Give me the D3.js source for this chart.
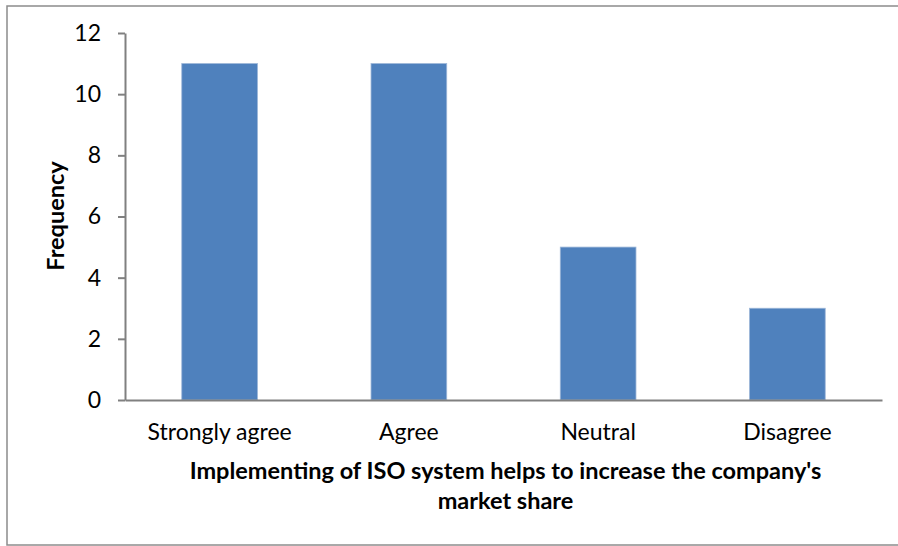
<!DOCTYPE html>
<html>
<head>
<meta charset="utf-8">
<script src="https://cdn.jsdelivr.net/npm/d3@7"></script>
<style>
  html, body { margin: 0; padding: 0; background: #fff; }
  svg { display: block; }
  text { font-family: Lato, "Open Sans", "Liberation Sans", sans-serif; fill: #000; }
</style>
</head>
<body>
<svg id="chart" width="898" height="546"></svg>
<script>
// Survey responses
const categories = ["Strongly agree", "Agree", "Neutral", "Disagree"];
const frequency = [11, 11, 5, 3];
const yTicks = [0, 2, 4, 6, 8, 10, 12];
const xTitleLines = ["Implementing of ISO system helps to increase the company's", "market share"];
const yTitle = "Frequency";

const svg = d3.select("#chart");
const W = 898, H = 546;
const plot = { left: 125, right: 882, top: 33, bottom: 400 };
const tickFont = 23, titleFont = 23.5;

// Outer frame
svg.append("rect")
  .attr("x", 7).attr("y", 6)
  .attr("width", W + 10).attr("height", 539)
  .attr("fill", "#fff").attr("stroke", "#8c8c8c").attr("stroke-width", 1.5);

const x = d3.scaleBand().domain(categories).range([plot.left, plot.right]).padding(0);
const y = d3.scaleLinear().domain([0, 12]).range([plot.bottom, plot.top]);

const barW = x.bandwidth() * 0.4;

svg.append("g").selectAll("rect")
  .data(categories)
  .join("rect")
  .attr("x", d => x(d) + (x.bandwidth() - barW) / 2)
  .attr("y", (d, i) => y(frequency[i]))
  .attr("width", barW)
  .attr("height", (d, i) => y(0) - y(frequency[i]))
  .attr("fill", "#4f81bd")
  .attr("stroke", "#9cb6d8")
  .attr("stroke-width", 0.8);

// Y axis
const yAxis = svg.append("g")
  .attr("transform", `translate(${plot.left},0)`)
  .call(d3.axisLeft(y).tickValues(yTicks).tickSize(7).tickPadding(17).tickSizeOuter(0));
yAxis.select(".domain").attr("stroke", "#808080").attr("stroke-width", 2);
yAxis.selectAll(".tick line").attr("stroke", "#808080").attr("stroke-width", 2);
yAxis.selectAll(".tick text").attr("font-size", tickFont).attr("font-family", "Lato, 'Open Sans', sans-serif").attr("fill", "#000");

// X axis
const xAxis = svg.append("g")
  .attr("transform", `translate(0,${plot.bottom})`)
  .call(d3.axisBottom(x).tickSize(0).tickPadding(24));
xAxis.select(".domain").attr("stroke", "#808080").attr("stroke-width", 2);
xAxis.selectAll(".tick text").attr("font-size", tickFont).attr("font-family", "Lato, 'Open Sans', sans-serif").attr("fill", "#000");

// Axis titles
svg.append("text")
  .attr("text-anchor", "middle")
  .attr("font-weight", "bold").attr("font-size", titleFont)
  .selectAll("tspan")
  .data(xTitleLines)
  .join("tspan")
  .attr("x", (plot.left + plot.right) / 2 + 2)
  .attr("y", (d, i) => 479 + i * 30)
  .text(d => d);

svg.append("text")
  .attr("transform", "translate(64,216) rotate(-90)")
  .attr("text-anchor", "middle")
  .attr("font-weight", "bold").attr("font-size", titleFont)
  .text(yTitle);
</script>
</body>
</html>
